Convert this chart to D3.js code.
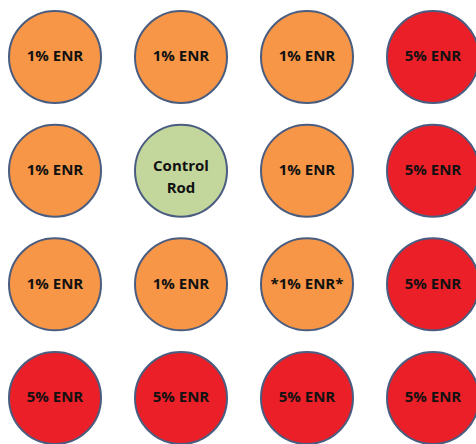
<!DOCTYPE html>
<html>
<head>
<meta charset="utf-8">
<script src="https://cdn.jsdelivr.net/npm/d3@7"></script>
<style>
  body { margin: 0; background: #fff; }
  svg { display: block; }
</style>
</head>
<body>
<svg id="grid"></svg>
<script>
// Fuel layout, 4 x 4
var rows = [0, 1, 2, 3];
var cols = [0, 1, 2, 3];
var types = [
  ['1%', '1%', '1%', '5%'],
  ['1%', 'CR', '1%', '5%'],
  ['1%', '1%', '1%*', '5%'],
  ['5%', '5%', '5%', '5%']
];
var labels = {
  '1%': ['1% ENR'],
  '1%*': ['*1% ENR*'],
  '5%': ['5% ENR'],
  'CR': ['Control', 'Rod']
};

var colors = { '1%': '#F79646', '1%*': '#F79646', '5%': '#EA1F27', 'CR': '#C3D69B' };

var w = 476, h = 444, r = 46;

var svg = d3.select('#grid').attr('width', w).attr('height', h);

var xscale = d3.scalePoint().domain(cols).range([55, 433]);
var yscale = d3.scalePoint().domain(rows).range([57, 398]);

var cells = [];
rows.forEach(function(ri) {
  cols.forEach(function(ci) {
    cells.push({ row: ri, col: ci, type: types[ri][ci] });
  });
});

var g = svg.selectAll('g.cell')
    .data(cells)
    .enter()
    .append('g')
    .attr('class', 'cell')
    .attr('transform', d => 'translate(' + xscale(d.col) + ',' + yscale(d.row) + ')');

g.append('circle')
    .attr('r', r)
    .attr('fill', d => colors[d.type])
    .attr('stroke', '#4A5D80')
    .attr('stroke-width', 2);

g.append('text')
    .attr('text-anchor', 'middle')
    .attr('font-family', '"Open Sans", sans-serif')
    .attr('font-weight', 'bold')
    .attr('font-size', '15px')
    .attr('fill', '#111')
    .each(function(d) {
      var lines = labels[d.type];
      var t = d3.select(this);
      var lh = 22;
      lines.forEach(function(s, i) {
        t.append('tspan')
          .attr('x', 0)
          .attr('y', lines.length > 1 ? -5 + i * lh : -1)
          .attr('dy', '0.36em')
          .text(s);
      });
    });
</script>
</body>
</html>
